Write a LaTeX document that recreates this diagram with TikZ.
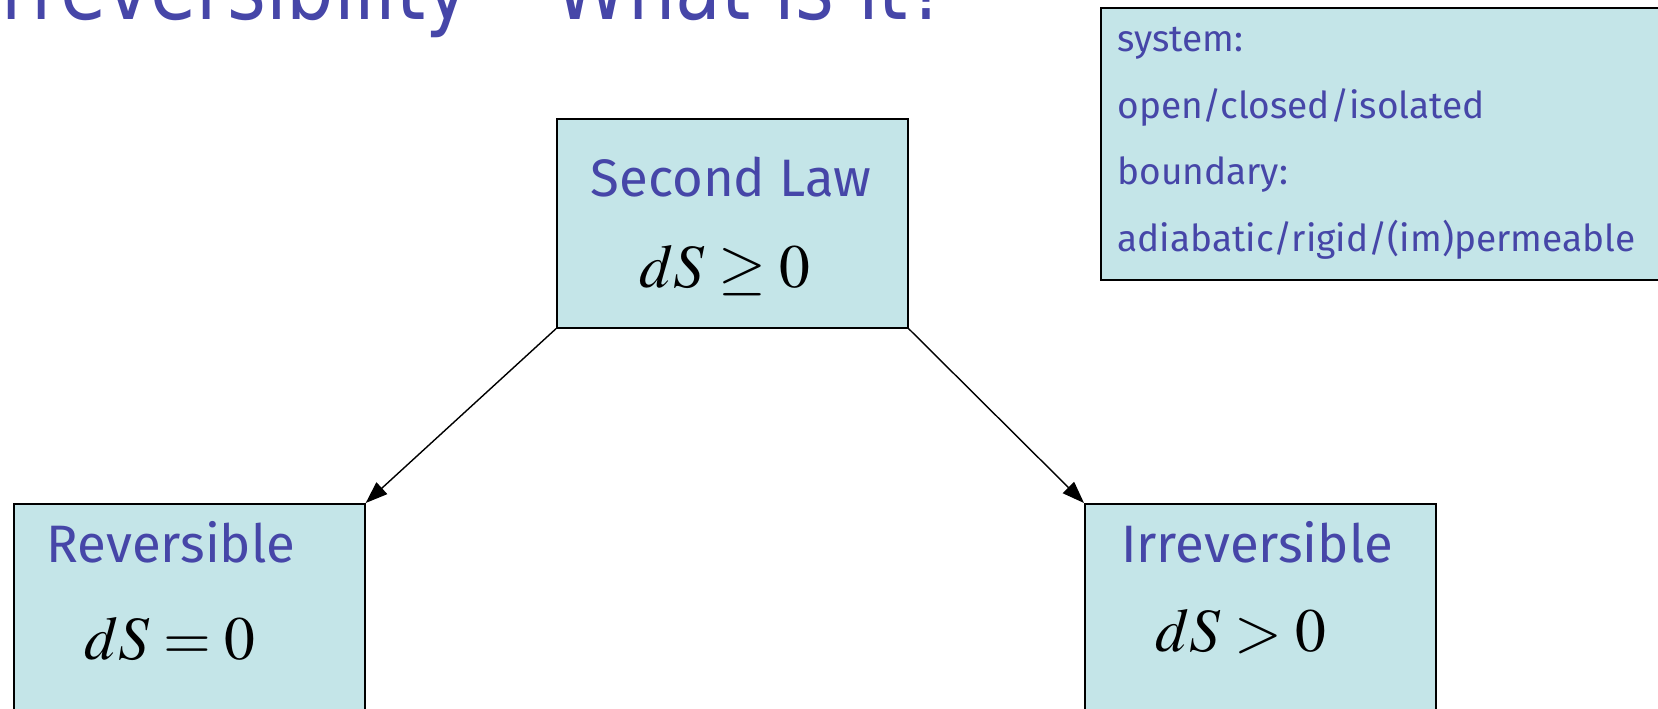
\documentclass[tikz,border=0pt]{standalone}
\usepackage{mathptmx}
\usepackage{fontspec}
\newfontfamily\slidefont{Fira Sans}
\newfontfamily\titlefont[FakeStretch=0.85]{DejaVu Sans}
\usetikzlibrary{arrows.meta}
\definecolor{slideblue}{HTML}{4646A8}
\definecolor{boxcyan}{HTML}{C4E5E8}
\tikzset{
  lawbox/.style={draw=black, line width=1pt, fill=boxcyan, anchor=north west,
    minimum width=7.02cm, minimum height=4.18cm, inner sep=0pt},
  infobox/.style={lawbox, minimum width=12cm, minimum height=5.44cm},
  labeltext/.style={anchor=base, text=slideblue, inner sep=0pt,
    font=\slidefont\fontsize{30}{36}\selectfont},
  mathtext/.style={anchor=base, text=black, inner sep=0pt,
    font=\fontsize{35}{40}\selectfont},
  infotext/.style={anchor=base west, text=slideblue, inner sep=0pt,
    font=\slidefont\fontsize{21.1}{25}\selectfont},
  titletext/.style={anchor=base east, text=slideblue, inner sep=0pt,
    font=\titlefont\fontsize{50}{58}\selectfont},
  link/.style={-{Triangle[length=12.5pt,width=9pt]}, line width=0.8pt}
}
\begin{document}
\begin{tikzpicture}[x=0.02cm, y=-0.02cm]
  \useasboundingbox (0,0) rectangle (1658,709);
  % slide title, cut at the top edge
  \node[titletext] (title) at (948,20) {Irreversibility – What is it?};
  % note box top right
  \node[infobox] (info) at (1100,7) {};
  \foreach \txt [count=\i] in {system:, open/closed/isolated, boundary:, adiabatic/rigid/(im)permeable}
    \node[infotext] (info\i) at (1117,{52+66.5*(\i-1)}) {\txt};
  % the three boxes
  \node[lawbox] (law) at (556,118) {};
  \node[labeltext] (lawname) at (731,197) {Second Law};
  \node[mathtext] (lawmath) at (725,288) {$dS \geq 0$};
  \node[lawbox] (rev) at (13,503) {};
  \node[labeltext] (revname) at (171,563) {Reversible};
  \node[mathtext] (revmath) at (170,660) {$dS = 0$};
  \node[lawbox] (irr) at (1084,503) {};
  \node[labeltext] (irrname) at (1257,563) {Irreversible};
  \node[mathtext] (irrmath) at (1241,652) {$dS > 0$};
  \draw[link] (law.south west) -- (rev.north east);
  \draw[link] (law.south east) -- (irr.north west);
\end{tikzpicture}
\end{document}
